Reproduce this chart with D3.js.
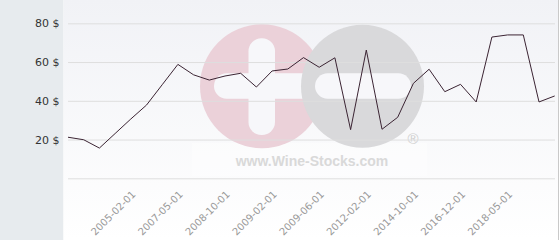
<!DOCTYPE html>
<html>
<head>
<meta charset="utf-8">
<script src="https://cdn.jsdelivr.net/npm/d3@7"></script>
<style>
  body { margin: 0; background: #fff; }
  svg { display: block; font-family: "DejaVu Sans", sans-serif; }
</style>
</head>
<body>
<svg id="chart" width="560" height="240"></svg>
<script>
// price per bottle, one value per point (evenly spaced categories)
const prices = [21.2, 19.9, 15.6, 23.1, 30.6, 37.8, 48.3, 58.8, 53.4, 50.7,
  52.8, 54.2, 47.1, 55.4, 56.4, 62.3, 57.3, 62.2, 25.1, 66.2,
  25.3, 31.5, 49.0, 56.3, 44.7, 48.5, 39.4, 72.9, 74.0, 74.0,
  39.4, 42.5];

const tickIdx = [4, 7, 10, 13, 16, 19, 22, 25, 28];
const tickLabels = ["2005-02-01", "2007-05-01", "2008-10-01", "2009-02-01",
  "2009-06-01", "2012-02-01", "2014-10-01", "2016-12-01", "2018-05-01"];

const yTicks = [20, 40, 60, 80];
const gridTicks = [0, 20, 40, 60, 80];

const width = 560, height = 240;
const plot = { left: 68, right: 555, top: 23.3, bottom: 178.3 };

const svg = d3.select("#chart");

const x = d3.scalePoint()
  .domain(d3.range(prices.length))
  .range([plot.left, plot.right - 0.3]);

const y = d3.scaleLinear()
  .domain([0, 80])
  .range([plot.bottom, plot.top]);

// background gradient
const defs = svg.append("defs");
const grad = defs.append("linearGradient")
  .attr("id", "bg")
  .attr("x1", 0).attr("y1", 0).attr("x2", 0).attr("y2", 1);
grad.append("stop").attr("offset", "0%").attr("stop-color", "#f1f2f6");
grad.append("stop").attr("offset", "100%").attr("stop-color", "#ffffff");

svg.append("rect")
  .attr("x", 0).attr("y", 0)
  .attr("width", 63.5).attr("height", height)
  .attr("fill", "#e7ebee");

svg.append("rect")
  .attr("x", 63.5).attr("y", 0)
  .attr("width", 495).attr("height", height)
  .attr("fill", "url(#bg)");

svg.append("line")
  .attr("x1", 558.5).attr("x2", 558.5)
  .attr("y1", 0).attr("y2", height)
  .attr("stroke", "#c9c9c9");

// watermark logo
const wm = svg.append("g").attr("class", "watermark");
wm.append("rect")
  .attr("x", 192).attr("y", 143)
  .attr("width", 235).attr("height", 33)
  .attr("fill", "#ffffff").attr("opacity", 0.35);
wm.append("circle")
  .attr("cx", 262).attr("cy", 86.3).attr("r", 62)
  .attr("fill", "#ebd1d9");
wm.append("rect")
  .attr("x", 248.5).attr("y", 38.3)
  .attr("width", 26.5).attr("height", 96.7)
  .attr("rx", 13).attr("fill", "#f7f7fa");
wm.append("rect")
  .attr("x", 214).attr("y", 73.3)
  .attr("width", 110).attr("height", 25.5)
  .attr("rx", 12.7).attr("fill", "#f7f7fa");
wm.append("circle")
  .attr("cx", 362.5).attr("cy", 86.3).attr("r", 61.5)
  .attr("fill", "#d9d9db");
wm.append("rect")
  .attr("x", 315).attr("y", 73.3)
  .attr("width", 96).attr("height", 25.5)
  .attr("rx", 12.7).attr("fill", "#f7f7fa");
wm.append("text")
  .attr("x", 312).attr("y", 165.7)
  .attr("text-anchor", "middle")
  .attr("font-family", "'Liberation Sans', Arial, sans-serif")
  .attr("font-weight", "bold")
  .attr("font-size", 14)
  .attr("fill", "#d9d9d9")
  .text("www.Wine-Stocks.com");
wm.append("text")
  .attr("x", 413).attr("y", 144)
  .attr("text-anchor", "middle")
  .attr("font-family", "'Liberation Sans', Arial, sans-serif")
  .attr("font-size", 15)
  .attr("fill", "#cfcfcf")
  .text("®");

// gridlines
const grid = svg.append("g")
  .attr("transform", `translate(${plot.left},0)`)
  .call(d3.axisLeft(y)
    .tickValues(gridTicks)
    .tickSize(-(plot.right - plot.left))
    .tickFormat(""));
grid.select(".domain").remove();
grid.selectAll("line").attr("stroke", "#dedede");

// y axis labels
const yAxis = svg.append("g")
  .attr("transform", "translate(59.5,0)")
  .call(d3.axisLeft(y)
    .tickValues(yTicks)
    .tickSize(0)
    .tickPadding(0)
    .tickFormat(d => d + " $"));
yAxis.select(".domain").remove();
yAxis.selectAll("text")
  .attr("font-family", "'DejaVu Sans', sans-serif")
  .attr("font-size", 11)
  .attr("fill", "#333");

// x axis labels (rotated)
const xAxis = svg.append("g")
  .attr("transform", "translate(0,195)")
  .call(d3.axisBottom(x)
    .tickValues(tickIdx)
    .tickSize(0)
    .tickFormat(i => tickLabels[tickIdx.indexOf(i)]));
xAxis.select(".domain").remove();
xAxis.selectAll("text")
  .attr("x", 0).attr("y", 0).attr("dy", 0)
  .attr("text-anchor", "end")
  .attr("transform", "translate(5,0) rotate(-45)")
  .attr("font-family", "'DejaVu Sans', sans-serif")
  .attr("font-size", 10)
  .attr("fill", "#999");

// price line
const line = d3.line()
  .x((d, i) => x(i))
  .y(d => y(d));

svg.append("path")
  .datum(prices)
  .attr("fill", "none")
  .attr("stroke", "#3b2433")
  .attr("stroke-width", 1)
  .attr("d", line);
</script>
</body>
</html>
